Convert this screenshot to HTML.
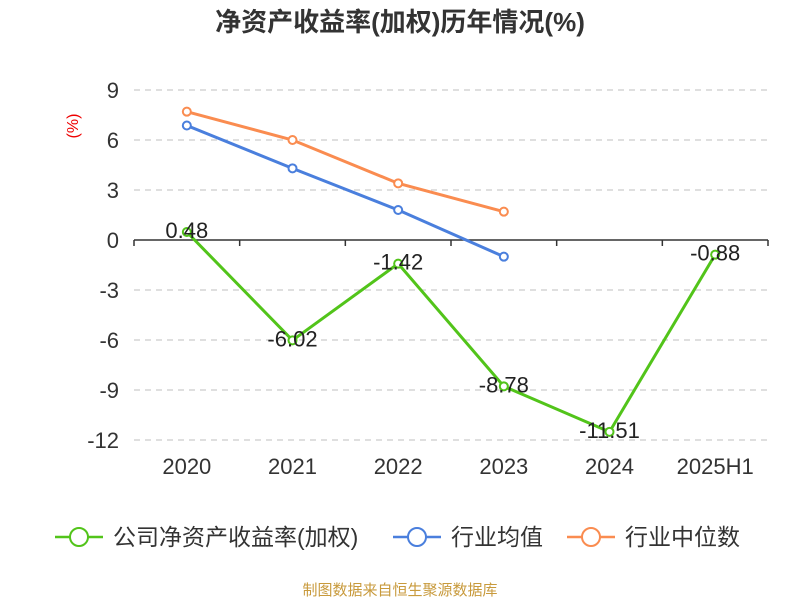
<!DOCTYPE html>
<html><head><meta charset="utf-8"><style>
body{margin:0;background:#fff;}
svg{font-family:"Liberation Sans","Noto Sans CJK SC",sans-serif;}
</style></head><body>
<svg id="c" width="800" height="600" xmlns="http://www.w3.org/2000/svg">
<text x="400" y="31" text-anchor="middle" font-size="26" font-weight="bold" fill="#333">净资产收益率(加权)历年情况(%)</text>
<text transform="translate(78,126) rotate(-90)" text-anchor="middle" font-size="16" fill="#e00">(%)</text>
<g id="grid"></g><g id="axes"></g><g id="series"></g>
<g font-size="23" fill="#333">
 <g><line x1="55" y1="537" x2="103" y2="537" stroke="#52c41a" stroke-width="2.5"/><circle cx="79" cy="537" r="9" fill="#fff" stroke="#52c41a" stroke-width="2"/><text x="113" y="545">公司净资产收益率(加权)</text></g>
 <g><line x1="393" y1="537" x2="441" y2="537" stroke="#4a7fdd" stroke-width="2.5"/><circle cx="417" cy="537" r="9" fill="#fff" stroke="#4a7fdd" stroke-width="2"/><text x="451" y="545">行业均值</text></g>
 <g><line x1="567" y1="537" x2="615" y2="537" stroke="#fa8c50" stroke-width="2.5"/><circle cx="591" cy="537" r="9" fill="#fff" stroke="#fa8c50" stroke-width="2"/><text x="625" y="545">行业中位数</text></g>
</g>
<text x="400" y="595" text-anchor="middle" font-size="15" fill="#c89a3c">制图数据来自恒生聚源数据库</text>
</svg>
<script>
const categories=["2020","2021","2022","2023","2024","2025H1"];
const company=[0.48,-6.02,-1.42,-8.78,-11.51,-0.88];
const industryAvg=[6.87,4.3,1.8,-1.0,null,null];
const industryMedian=[7.7,6.0,3.4,1.7,null,null];
const yTicks=[9,6,3,0,-3,-6,-9,-12];
const NS="http://www.w3.org/2000/svg";
const L=134,R=768,T=90,B=440,ymax=9,ymin=-12;
const bw=(R-L)/categories.length;
const xs=i=>L+bw*(i+0.5);
const ys=v=>T+(ymax-v)/(ymax-ymin)*(B-T);
function mk(tag,attrs,parent){const e=document.createElementNS(NS,tag);for(const k in attrs)e.setAttribute(k,attrs[k]);parent.appendChild(e);return e;}
const grid=document.getElementById('grid'),axes=document.getElementById('axes'),ser=document.getElementById('series');
yTicks.forEach(v=>{
 if(v!==0){const g=mk('line',{x1:L,x2:R,y1:ys(v),y2:ys(v),stroke:'#ccc','stroke-dasharray':'6,5','stroke-width':1.2},grid);
 
 }
 const t=mk('text',{x:119,y:ys(v)+8,'text-anchor':'end','font-size':22,fill:'#333'},axes);t.textContent=v;
 
 
});
const ax=mk('line',{x1:L,x2:R,y1:ys(0),y2:ys(0),stroke:'#333','stroke-width':1.5},axes);


for(let i=0;i<=categories.length;i++){const tk=mk('line',{x1:L+bw*i,x2:L+bw*i,y1:ys(0),y2:ys(0)+6,stroke:'#333','stroke-width':1.5},axes);
 
 }
categories.forEach((c,i)=>{const t=mk('text',{x:xs(i),y:474,'text-anchor':'middle','font-size':22,fill:'#333'},axes);t.textContent=c;
 
 });
function series(data,color,name,labels){
 const pts=[];data.forEach((v,i)=>{if(v!==null)pts.push([xs(i),ys(v),v]);});
 const p=mk('polyline',{points:pts.map(p=>p[0]+','+p[1]).join(' '),fill:'none',stroke:color,'stroke-width':3},ser);
 
 
 pts.forEach(pt=>{const c=mk('circle',{cx:pt[0],cy:pt[1],r:4,fill:'#fff',stroke:color,'stroke-width':2},ser);
  
  
  if(labels){const t=mk('text',{x:pt[0],y:pt[1]+6,'text-anchor':'middle','font-size':22,fill:'#222'},ser);t.textContent=pt[2].toFixed(2);
  
  }
 });
}
series(industryMedian,'#fa8c50','industry-median',false);
series(industryAvg,'#4a7fdd','industry-avg',false);
series(company,'#52c41a','company-roe',true);
</script>
</body></html>
